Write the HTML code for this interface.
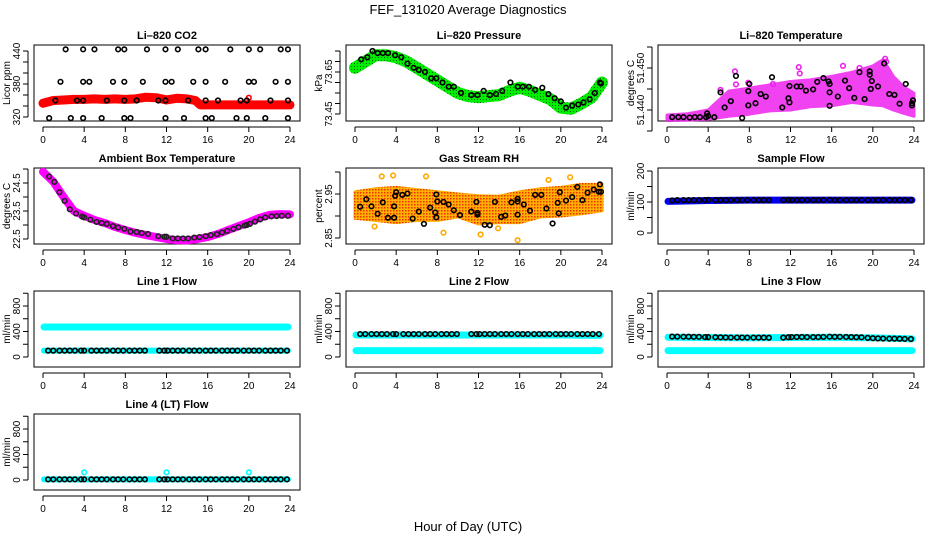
<!DOCTYPE html>
<html><head><meta charset="utf-8"><style>
html,body{margin:0;padding:0;background:#fff;}
svg{display:block;font-family:"Liberation Sans",Arial,sans-serif;}
</style></head><body>
<svg id="chart" width="936" height="540" viewBox="0 0 936 540">
<defs>
<pattern id="rhpat" width="3" height="3" patternUnits="userSpaceOnUse"><rect width="3" height="3" fill="#ffb000"/><rect width="1.5" height="1.5" fill="#ee3300"/></pattern>
<pattern id="prpat" width="3" height="3" patternUnits="userSpaceOnUse"><rect width="3" height="3" fill="#00ee00"/><rect width="1" height="1" fill="#006600"/></pattern>
</defs>
<text x="468" y="14" text-anchor="middle" font-size="13">FEF_131020  Average Diagnostics</text>
<text x="468" y="531" text-anchor="middle" font-size="13">Hour of Day (UTC)</text>
</svg>
<script>
const hourTicks = [0,4,8,12,16,20,24];
const hx = [0.5,1.0,1.6,2.1,2.6,3.1,3.7,4.0,4.7,5.2,5.7,6.2,6.8,7.3,7.8,8.4,8.9,9.4,9.9,11.3,11.8,12.1,12.6,13.1,13.6,14.2,14.7,15.2,15.8,16.3,16.8,17.4,17.9,18.4,18.9,19.5,20.0,20.5,21.0,21.6,22.1,22.6,23.1,23.7];
// CO2
const co2RedX = [0,1,2,3,4,5,6,7,8,9,10,11,12,13,14,14.8,15.3,16,18,20,22,24];
const co2Red = [345,350,351,352,352,353,352,353,352,353,356,355,351,354,353,350,342,342,342,342,342,342];
const co2BlackX = [2.2,3.9,5,7.3,7.9,10.1,11.9,13.1,15.1,15.8,18.2,20,21.1,23.1,23.8, 1.7,3.9,4.5,6.8,7.9,9.7,11.9,12.5,14.6,15.8,17.7,20,20.5,22.6,23.8, 1.2,3.3,3.9,6.2,7.9,9.1,11.2,11.9,14.1,15.8,17,19.2,19.8,22.1,23.8, 0.6,2.7,3.9,5.7,7.9,8.5,11.9,13.7,15.8,16.4,18.8,19.8,21.6,23.8];
const co2Black = [443,443,443,443,443,443,443,443,443,443,443,443,443,443,443, 384,384,384,384,384,384,384,384,384,384,384,384,384,384,384, 350,350,350,350,350,350,350,350,350,350,350,350,350,350,350, 318,318,318,318,318,318,318,318,318,318,318,318,318,318];
// Pressure
const presX = [0,1,2,3,4,5,6,7,8,9,10,11,12,13,14,15,16,17,18,19,20,21,22,23,24];
const pres = [73.67,73.70,73.73,73.73,73.72,73.70,73.67,73.64,73.61,73.58,73.55,73.535,73.53,73.535,73.54,73.56,73.575,73.56,73.54,73.52,73.48,73.475,73.50,73.53,73.60];
const presBlackX = [0.6,1.2,1.7,2.2,2.7,3.2,3.9,4.5,5.1,5.7,6.2,6.8,7.4,7.9,8.5,9.1,9.6,10.3,11.3,11.9,12.5,13.1,13.7,14.3,15.1,15.8,16.3,16.9,17.5,18.2,18.8,19.4,20.0,20.5,21.1,21.7,22.2,22.8,23.3,23.8,23.9];
const presBlack = [73.71,73.72,73.75,73.74,73.74,73.74,73.73,73.72,73.69,73.67,73.66,73.65,73.62,73.62,73.60,73.58,73.58,73.55,73.54,73.54,73.56,73.54,73.545,73.56,73.60,73.58,73.58,73.58,73.565,73.575,73.545,73.525,73.51,73.48,73.49,73.495,73.505,73.52,73.55,73.60,73.595];
// Li-820 temperature
const tempX = [0,2,4,6,8,10,12,14,16,18,20,21,22,23,24];
const tempLo = [51.4375,51.4376,51.4378,51.4385,51.4390,51.4398,51.4400,51.4408,51.4410,51.4418,51.4412,51.4410,51.4400,51.4392,51.4385];
const tempHi = [51.4388,51.4391,51.4400,51.4445,51.4452,51.4460,51.4468,51.4472,51.4480,51.4490,51.4505,51.4520,51.4480,51.4455,51.4440];
const tempBlackX = [0.5,1.1,1.6,2.2,2.7,3.2,3.8,3.9,4,4.6,5.2,5.6,6.2,6.7,7.3,7.9,7.9,8,8.6,9.1,9.6,10.2,11.2,11.8,11.9,11.9,12.6,13,13.5,14.2,14.6,15.2,15.7,15.8,15.8,15.8,16.6,17.3,17.7,18.2,18.7,19.2,19.7,19.7,19.8,19.9,20.5,21.1,21.6,22.1,22.6,23.2,23.8,23.8,23.9];
const tempBlack = [51.4383,51.4383,51.4383,51.4382,51.4383,51.4383,51.4383,51.4392,51.4386,51.4383,51.4442,51.4406,51.4421,51.4481,51.4381,51.4411,51.4445,51.4462,51.4416,51.4438,51.4432,51.4478,51.4406,51.4428,51.4418,51.4457,51.4456,51.4456,51.4446,51.4449,51.4467,51.4476,51.4468,51.4462,51.4442,51.4410,51.4432,51.4470,51.4452,51.4429,51.4490,51.4426,51.4492,51.4484,51.4450,51.4469,51.4456,51.4511,51.4438,51.4436,51.4415,51.4462,51.4411,51.4416,51.4423];
const tempOutX = [6.6,6.7,12.8,12.9,17.1,18.7,21.2,21.3,7.9,5.2,10.3];
const tempOut = [51.4492,51.4461,51.4502,51.4487,51.4505,51.4500,51.4522,51.4515,51.4465,51.4448,51.4462];
// Ambient box temperature
const ambX = [0,1,2,3,4,5,6,7,8,9,10,11,12,13,14,15,16,17,18,19,20,21,22,23,24];
const amb = [24.9,24.55,24.0,23.5,23.33,23.18,23.07,22.93,22.82,22.72,22.64,22.57,22.50,22.46,22.45,22.50,22.57,22.68,22.82,22.96,23.10,23.25,23.36,23.39,23.38];
const ambBlackX = [0.6,1.1,1.6,2.1,2.6,3.2,3.8,4.0,4.6,5.2,5.7,6.2,6.8,7.3,7.9,8.5,9.1,9.6,10.2,11.2,11.8,12.0,12.6,13.1,13.6,14.1,14.7,15.2,15.8,16.3,16.9,17.4,17.9,18.5,19.0,19.6,19.8,20.1,20.6,21.1,21.6,22.2,22.7,23.2,23.8];
const ambBlack = [24.73,24.54,24.17,23.86,23.56,23.41,23.30,23.27,23.19,23.11,23.07,23.04,22.96,22.91,22.86,22.77,22.75,22.71,22.68,22.60,22.58,22.58,22.52,22.52,22.52,22.52,22.55,22.57,22.60,22.64,22.67,22.73,22.79,22.86,22.92,22.98,23.00,23.04,23.12,23.20,23.27,23.31,23.32,23.33,23.33];
// Gas stream RH
const rhX = [0,2,4,6,8,10,12,14,16,18,20,22,24];
const rhLo = [2.895,2.890,2.885,2.890,2.890,2.898,2.882,2.885,2.885,2.898,2.900,2.905,2.912];
const rhHi = [2.955,2.962,2.965,2.960,2.955,2.950,2.946,2.945,2.955,2.962,2.965,2.972,2.972];
const rhBlackX = [0.5,1.1,1.6,2.2,2.7,3.2,3.8,3.8,3.9,4.0,4.6,5.1,5.6,6.2,6.7,7.3,7.8,7.9,7.9,8.0,8.6,9.1,9.6,10.2,11.3,11.8,11.9,11.9,12.6,13.1,13.6,14.2,14.6,15.2,15.8,15.8,15.8,16.4,17.0,17.5,18.1,18.6,19.2,19.7,19.8,19.9,20.5,21.1,21.6,22.1,22.6,23.2,23.7,23.8,23.9];
const rhBlack = [2.921,2.938,2.922,2.905,2.931,2.896,2.896,2.922,2.946,2.954,2.948,2.951,2.894,2.910,2.882,2.919,2.908,2.897,2.949,2.933,2.932,2.926,2.913,2.902,2.910,2.932,2.907,2.903,2.880,2.879,2.932,2.898,2.901,2.931,2.933,2.939,2.903,2.926,2.912,2.948,2.948,2.917,2.883,2.930,2.906,2.954,2.935,2.943,2.966,2.936,2.953,2.960,2.955,2.972,2.955];
// Sample flow
const sampleBand = [102,105,106,106,106,106,106];
const sampleBlack = [105,106,106,106,106,106,106,107,106,106,106,106,106,106,106,106,106,106,106,106,107,106,106,106,106,106,106,106,107,106,106,106,106,106,106,106,106,106,106,106,106,106,106,106];
// Line flows
const line1Cyan = [470,470,470,470,470,470,470];
const line1CyanLow = [100,100,100,100,100,100,100];
const line1Black = [100,100,100,100,100,100,100,100,100,100,100,100,100,100,100,100,100,100,100,100,100,100,100,100,100,100,100,100,100,100,100,100,100,100,100,100,100,100,100,100,100,100,100,100];
const line2Cyan = [345,345,345,345,345,345,340];
const line2CyanLow = [100,100,100,100,100,100,100];
const line2Black = [360,360,360,360,360,360,360,360,360,360,360,360,360,360,360,360,360,360,360,360,360,360,360,360,360,360,360,360,360,360,360,360,360,360,360,360,360,360,360,360,360,360,360,360];
const line3Cyan = [310,305,300,305,310,300,285];
const line3CyanLow = [100,100,100,100,100,100,100];
const line3Black = [320,320,318,318,316,316,312,312,310,308,306,305,305,305,304,304,304,304,302,304,310,312,314,314,312,312,312,315,318,316,316,314,312,310,308,300,295,292,290,288,288,286,284,282];
const line4Cyan = [10,10,10,10,10,10,10];
const line4Spike = [120,120,120];
const line4SpikeX = [4,12,20];
const line4Black = [10,10,10,10,10,10,10,10,10,10,10,10,10,10,10,10,10,10,10,10,10,10,10,10,10,10,10,10,10,10,10,10,10,10,10,10,10,10,10,10,10,10,10,10];
const flowTicks = [0,200,400,600,800,1000];
const flowLabels = [0,400,800];

const NS = 'http://www.w3.org/2000/svg';
const svg = document.getElementById('chart');
function mk(tag, attrs, parent){
  const e = document.createElementNS(NS, tag);
  for (const k in attrs) e.setAttribute(k, attrs[k]);
  (parent||svg).appendChild(e);
  return e;
}
function panel(key, col, row, title, ylab, v0, p0, v1, p1, ticks, labels, fmt){
  const ox = 312*col, oy = 123*row;
  const g = mk('g', {});
  
  
  const X = h => 43 + ox + h*(247/24);
  const Y = v => oy + p0 + (v - v0)*(p1 - p0)/(v1 - v0);
  const top = 45 + oy, bot = 121 + oy, left = 34 + ox, right = 300 + ox;
  const t = mk('text', {x:(left+right)/2, y:top-6, 'text-anchor':'middle', 'font-size':'11', 'font-weight':'bold'}, g);
  t.textContent = title;
  
  
  const box = mk('rect', {x:left, y:top, width:right-left, height:bot-top, fill:'none', stroke:'#000', 'stroke-width':1}, g);
  
  
  const xa = mk('g', {}, g);
  
  
  mk('line', {x1:X(0), x2:X(24), y1:bot+6, y2:bot+6, stroke:'#000'}, xa);
  hourTicks.forEach(h => {
    mk('line', {x1:X(h), x2:X(h), y1:bot+6, y2:bot+11, stroke:'#000'}, xa);
    const tl = mk('text', {x:X(h), y:bot+22, 'text-anchor':'middle', 'font-size':'10'}, xa);
    tl.textContent = h;
  });
  const ya = mk('g', {}, g);
  
  
  mk('line', {x1:left-6, x2:left-6, y1:Y(ticks[0]), y2:Y(ticks[ticks.length-1]), stroke:'#000'}, ya);
  ticks.forEach(v => mk('line', {x1:left-11, x2:left-6, y1:Y(v), y2:Y(v), stroke:'#000'}, ya));
  labels.forEach(v => {
    const tx = left - 14, ty = Y(v);
    const tl = mk('text', {x:tx, y:ty, 'text-anchor':'middle', 'font-size':'10', transform:'rotate(-90 '+tx+' '+ty+')'}, ya);
    tl.textContent = fmt ? fmt(v) : String(v);
  });
  const yx = 10 + ox, yy = (top+bot)/2;
  const yl = mk('text', {x:yx, y:yy, 'text-anchor':'middle', 'font-size':'10', transform:'rotate(-90 '+yx+' '+yy+')'}, g);
  yl.textContent = ylab;
  
  
  const clip = mk('clipPath', {id:'clip-'+key}, g);
  mk('rect', {x:left, y:top-4, width:right-left, height:bot-top+8}, clip);
  const marks = mk('g', {'clip-path':'url(#clip-'+key+')'}, g);
  
  
  return {X, Y, g: marks};
}
function band(p, xs, vs, color, w, name){
  const e = mk('polyline', {points: xs.map((x,i)=>p.X(x)+','+p.Y(vs[i])).join(' '), fill:'none', stroke:color, 'stroke-width':w, 'stroke-linejoin':'round', 'stroke-linecap':'round'}, p.g);
  
  
}
function area(p, xs, lo, hi, color, name, op){
  const pts = xs.map((x,i)=>p.X(x)+','+p.Y(hi[i])).concat(xs.slice().reverse().map((x,j)=>p.X(x)+','+p.Y(lo[xs.length-1-j])));
  const e = mk('polygon', {points: pts.join(' '), fill:color, stroke:color, 'stroke-width':3, 'stroke-linejoin':'round', opacity: op||1}, p.g);
  
  
}
function pts(p, xs, vs, color, name, r){
  const gg = mk('g', {}, p.g);
  
  
  xs.forEach((x,i) => {
    const c = mk('circle', {cx:p.X(x), cy:p.Y(vs[i]), r:r||2.3, fill:'none', stroke:color, 'stroke-width':1.6}, gg);
    
    
  });
}
const knotX2 = [0.1,4,8,12,16,20,23.8];

// Row 1
let p = panel('co2', 0, 0, 'Li\u2013820 CO2', 'Licor ppm', 320, 117, 440, 51, [320,340,360,380,400,420,440], [320,380,440]);
band(p, co2RedX, co2Red, '#ff0000', 9, 'co2-red-series');
pts(p, [20], [355], '#ff0000', 'co2-red-outlier');
pts(p, co2BlackX, co2Black, '#000', 'co2-black-series');

p = panel('pressure', 1, 0, 'Li\u2013820 Pressure', 'kPa', 73.45, 114, 73.75, 51, [73.45,73.50,73.55,73.60,73.65,73.70,73.75], [73.45,73.65], v => v.toFixed(2));
band(p, presX, pres, 'url(#prpat)', 12, 'pressure-green-series');
pts(p, presBlackX, presBlack, '#000', 'pressure-black-series');

p = panel('li820-temp', 2, 0, 'Li\u2013820 Temperature', 'degrees C', 51.44, 110, 51.45, 68, [51.435,51.44,51.445,51.45,51.455], [51.44,51.45], v => v.toFixed(3));
area(p, tempX, tempLo, tempHi, '#ee22ee', 'temp-magenta-band', 0.85);
pts(p, tempOutX, tempOut, '#ee22ee', 'temp-magenta-outliers');
pts(p, tempBlackX, tempBlack, '#000', 'temp-black-series');

// Row 2
p = panel('ambient', 0, 1, 'Ambient Box Temperature', 'degrees C', 22.5, 116, 24.5, 60, [22.5,23,23.5,24,24.5,25], [22.5,23.5,24.5], v => v.toFixed(1));
band(p, ambX, amb, '#ff00ff', 8, 'ambient-magenta-series');
pts(p, ambBlackX, ambBlack, '#222', 'ambient-black-series');

p = panel('rh', 1, 1, 'Gas Stream RH', 'percent', 2.85, 115, 2.95, 71, [2.85,2.90,2.95,3.00], [2.85,2.95], v => v.toFixed(2));
area(p, rhX, rhLo, rhHi, 'url(#rhpat)', 'rh-orange-band');
pts(p, [2.6,3.7,6.9,12.2,15.8,18.8,20.9,1.9,8.6,13.9], [2.990,2.992,2.990,2.858,2.845,2.982,2.988,2.876,2.862,2.872], '#ffaa00', 'rh-orange-outliers');
pts(p, rhBlackX, rhBlack, '#000', 'rh-black-series');

p = panel('sample-flow', 2, 1, 'Sample Flow', 'ml/min', 0, 110, 200, 48, [0,50,100,150,200], [0,100,200]);
band(p, knotX2, sampleBand, '#0000ee', 7, 'sample-blue-series');
pts(p, hx, sampleBlack, '#000', 'sample-black-series');

// Row 3/4 flows
p = panel('line1', 0, 2, 'Line 1 Flow', 'ml/min', 0, 111, 800, 60, flowTicks, flowLabels);
band(p, knotX2, line1Cyan, '#00ffff', 7, 'line1-cyan-series');
band(p, knotX2, line1CyanLow, '#00ffff', 6, 'line1-cyan-low-series');
pts(p, hx, line1Black, '#000', 'line1-black-series');

p = panel('line2', 1, 2, 'Line 2 Flow', 'ml/min', 0, 111, 800, 60, flowTicks, flowLabels);
band(p, knotX2, line2Cyan, '#00ffff', 7, 'line2-cyan-series');
band(p, knotX2, line2CyanLow, '#00ffff', 7, 'line2-cyan-low-series');
pts(p, hx, line2Black, '#000', 'line2-black-series');

p = panel('line3', 2, 2, 'Line 3 Flow', 'ml/min', 0, 111, 800, 60, flowTicks, flowLabels);
band(p, knotX2, line3Cyan, '#00ffff', 7, 'line3-cyan-series');
band(p, knotX2, line3CyanLow, '#00ffff', 7, 'line3-cyan-low-series');
pts(p, hx, line3Black, '#000', 'line3-black-series');

p = panel('line4', 0, 3, 'Line 4 (LT) Flow', 'ml/min', 0, 111, 800, 60, flowTicks, flowLabels);
band(p, knotX2, line4Cyan, '#00ffff', 6, 'line4-cyan-series');
pts(p, line4SpikeX, line4Spike, '#00ffff', 'line4-cyan-spikes');
pts(p, hx, line4Black, '#000', 'line4-black-series');
</script>
</body></html>
